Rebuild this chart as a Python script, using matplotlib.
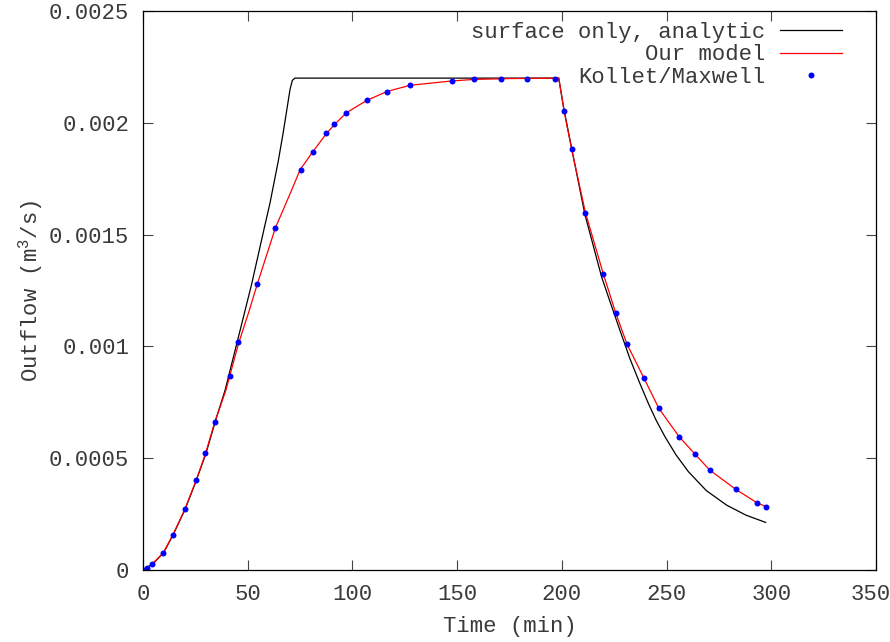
"""plot.py — outflow hydrograph, surface-only analytic vs model vs Kollet/Maxwell"""
import matplotlib
matplotlib.use("Agg")
import matplotlib.pyplot as plt
import matplotlib.transforms as mtransforms

# surface only, analytic (black line)
t_analytic = [0, 5, 10, 15, 20, 25, 30, 35, 39.2, 44.7, 48.7, 51.9, 57.9, 60.6, 64.6, 67,
              70.2, 71.3, 72.5,
              198.5, 201, 205, 211, 219, 223, 227.8, 232.5, 237, 241.3, 245, 249.3, 254.5,
              260.4, 269, 278.7, 288, 297.3]
q_analytic = [0, 0.00003, 0.00008, 0.00017, 0.00027, 0.00039, 0.00052, 0.00068, 0.000805,
              0.00101, 0.00116, 0.00128, 0.00153, 0.00164, 0.00183, 0.00196,
              0.00215, 0.00219, 0.00220,
              0.00220, 0.00206, 0.00187, 0.00159, 0.00131, 0.00120, 0.00107, 0.000945,
              0.00084, 0.000745, 0.00067, 0.000595, 0.000515, 0.00044, 0.000355, 0.00029,
              0.000245, 0.000213]

# our model (red line)
t_model = [0, 1.8, 4.4, 9.7, 14.3, 19.9, 25.5, 29.8, 34.2, 39.6, 45.5, 50.8, 54.6, 63.2,
           71.0, 75.0, 81, 87.4, 91.2, 97.1, 106.8, 116.4, 127.5, 147.2, 157.7, 175, 198.5,
           201.1, 204.7, 211.2, 219.6, 225.7, 231.1, 239.1, 246.3, 256, 263.5, 270.6,
           283, 293.1, 297.4]
q_model = [0, 0.000009, 0.000027, 0.000077, 0.000158, 0.00027, 0.000404, 0.00052, 0.00066,
           0.000805, 0.00101, 0.001163, 0.00128, 0.00153, 0.0017, 0.00179, 0.00187, 0.00195,
           0.00199, 0.002045, 0.0021, 0.00214, 0.002168, 0.002187, 0.002194, 0.002198, 0.0022,
           0.00205, 0.00188, 0.0016, 0.00133, 0.00115, 0.00101, 0.00086, 0.000723, 0.000596,
           0.000519, 0.000447, 0.000361, 0.000301, 0.000284]

# Kollet/Maxwell (blue dots)
t_km = [0, 1.8, 4.4, 9.7, 14.3, 19.9, 25.5, 29.8, 34.2, 41.5, 45.4, 54.4, 63.0, 75.5, 81.2,
        87.4, 91.2, 96.9, 107, 116.5, 127.5, 147.6, 158, 171, 183.4, 196.5,
        201.1, 204.7, 211.2, 219.8, 225.7, 231.0, 239.1, 246.3, 256.0, 263.5, 270.6,
        283.0, 293.1, 297.4]
q_km = [0, 0.000009, 0.000027, 0.000077, 0.000158, 0.000271, 0.000404, 0.000522, 0.000662,
        0.000868, 0.00102, 0.00128, 0.00153, 0.00179, 0.00187, 0.001954, 0.001995, 0.002044,
        0.002102, 0.002138, 0.002169, 0.002187, 0.002196, 0.002196, 0.002196, 0.002195,
        0.002053, 0.001884, 0.001595, 0.001325, 0.001148, 0.001011, 0.00086, 0.000723,
        0.000596, 0.000519, 0.000447, 0.000361, 0.000301, 0.000282]

x_ticks = [0, 50, 100, 150, 200, 250, 300, 350]
y_ticks = [0, 0.0005, 0.001, 0.0015, 0.002, 0.0025]
y_tick_labels = ["0", "0.0005", "0.001", "0.0015", "0.002", "0.0025"]

plt.rcParams["font.family"] = "Liberation Mono"
plt.rcParams["font.size"] = 16
plt.rcParams["mathtext.default"] = "regular"
text_col = "#3a3a3a"

fig = plt.figure(figsize=(8.9, 6.42), dpi=100)
ax = fig.add_axes([0.1607, 0.1121, 0.8236, 0.8707])

ax.plot(t_analytic, q_analytic, color="black", lw=0.9, label="surface only, analytic")
ax.plot(t_model, q_model, color="#ff0000", lw=0.9, label="Our model")
ax.plot(t_km, q_km, ls="none", marker="o", ms=4.3, mew=0, color="#0000ff",
        label="Kollet/Maxwell")

ax.set_xlim(0, 350); ax.set_ylim(0, 0.0025)
ax.set_xticks(x_ticks); ax.set_xticklabels([str(v) for v in x_ticks])
ax.set_yticks(y_ticks); ax.set_yticklabels(y_tick_labels)
ax.tick_params(direction="in", length=7, width=0.8, top=True, right=True,
               pad=10, labelcolor=text_col, color="#444444")
for s in ax.spines.values():
    s.set_linewidth(0.9)

# last x label sits at the figure edge, nudge it in a bit
last = ax.get_xticklabels()[-1]
last.set_transform(last.get_transform() + mtransforms.ScaledTranslation(-5 / 100, 0, fig.dpi_scale_trans))

ax.set_xlabel("Time (min)", color=text_col)
ax.set_ylabel("Outflow (m$^3$/s)", color=text_col)
ax.xaxis.set_label_coords(0.5, -0.101); ax.xaxis.label.set_va("center")
ax.yaxis.set_label_coords(-0.153, 0.5); ax.yaxis.label.set_va("center")

leg = ax.legend(loc="upper right", bbox_to_anchor=(0.9536, 0.9812), frameon=False,
                markerfirst=False, numpoints=1, borderpad=0, borderaxespad=0,
                handlelength=2.8, handletextpad=0.65, labelspacing=0.08)
for t in leg.get_texts():
    t.set_color(text_col)

fig.savefig("out.png", dpi=100)
